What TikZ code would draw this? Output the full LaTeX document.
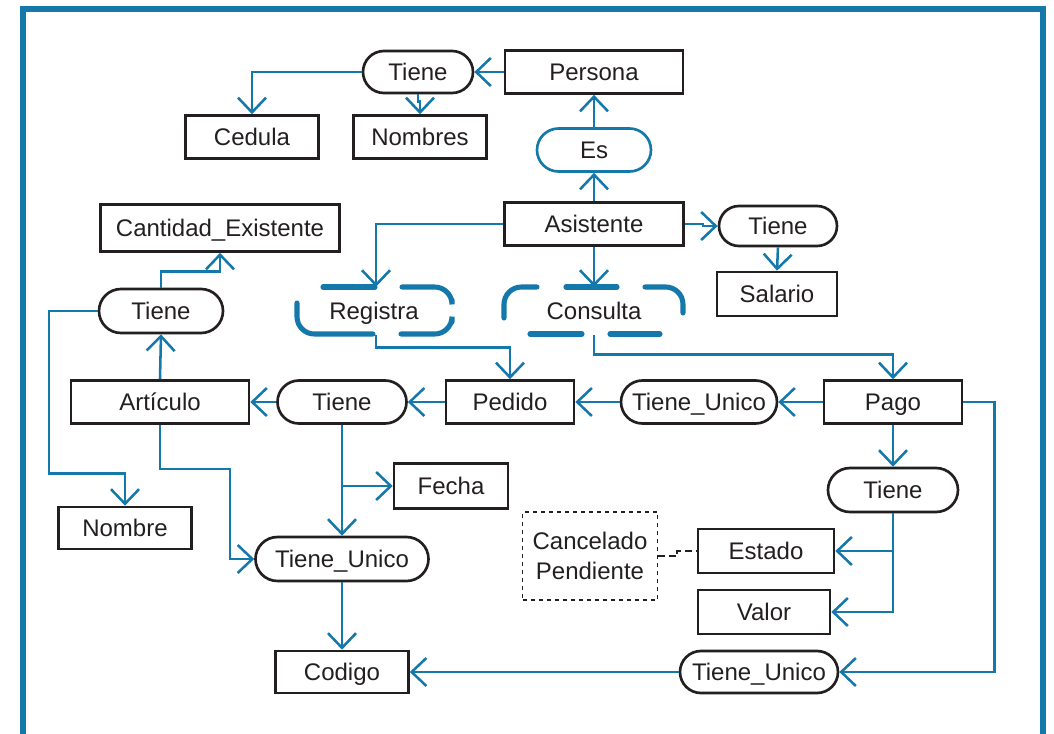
\documentclass[tikz,border=0pt]{standalone}
\usepackage{fontspec}
\setmainfont{Liberation Sans}
\usetikzlibrary{arrows.meta,shapes.misc,calc}
\definecolor{erblue}{RGB}{20,120,170}
\definecolor{ink}{RGB}{35,31,32}
\tikzset{
  sz/.style 2 args={minimum width=#1*0.75pt,minimum height=#2*0.75pt},
  base/.style={inner sep=0pt,font=\fontsize{18pt}{22.5pt}\selectfont,text=ink,align=center},
  one/.style={base,text height=12.6pt,text depth=0pt},
  ent/.style={one,draw=ink,line width=2pt,rectangle},
  rel/.style={one,draw=ink,line width=2pt,rounded rectangle},
  isa/.style={one,draw=erblue,line width=2pt,rounded rectangle},
  weakrel/.style={one,rectangle},
  weakline/.style={draw=erblue,line width=3.8pt,line cap=round,rounded corners=13pt},
  note/.style={base,draw=ink,line width=1.1pt,dashed,rectangle},
  link/.style={draw=erblue,line width=1.9pt,-{Straight Barb[length=11pt,width=21pt]}},
  notelink/.style={draw=ink,line width=1.3pt,dash pattern=on 5pt off 3pt}
}
\begin{document}
\begin{tikzpicture}[x=0.75pt,y=-0.75pt]
\useasboundingbox (0,0) rectangle (1054,733);
% frame
\draw[erblue,line width=4pt] (23,745) -- (23,9) -- (1043,9) -- (1043,745);

% nodes
\node[rel,sz={110}{42}] (tiene1) at (418,72) {Tiene};
\node[ent,sz={178}{43}] (persona) at (594,72) {Persona};
\node[ent,sz={133}{43}] (cedula) at (252,137) {Cedula};
\node[ent,sz={133}{43}] (nombres) at (420,137) {Nombres};
\node[isa,sz={114}{43}] (es) at (594,150) {Es};
\node[ent,sz={179}{43}] (asistente) at (594,224) {Asistente};
\node[rel,sz={118}{40}] (tiene2) at (778,226) {Tiene};
\node[ent,sz={120}{44}] (salario) at (777,294) {Salario};
\node[ent,sz={239}{47}] (cantidad) at (220,228) {Cantidad\_Existente};
\node[rel,sz={124}{44}] (tiene3) at (161,311) {Tiene};
\node[weakrel,sz={155}{48}] (registra) at (374,311) {Registra};
\node[weakrel,sz={179}{48}] (consulta) at (594,311) {Consulta};
\node[ent,sz={178}{43}] (articulo) at (160,402) {Artículo};
\node[rel,sz={129}{43}] (tiene4) at (342,402) {Tiene};
\node[ent,sz={128}{43}] (pedido) at (510,402) {Pedido};
\node[rel,sz={156}{43}] (tu1) at (699,402) {Tiene\_Unico};
\node[ent,sz={138}{43}] (pago) at (893,402) {Pago};
\node[ent,sz={114}{45}] (fecha) at (451,486) {Fecha};
\node[rel,sz={130}{44}] (tiene5) at (893,490) {Tiene};
\node[ent,sz={133}{42}] (nombre) at (125,528) {Nombre};
\node[note,sz={135}{88}] (cancel) at (590,556) {Cancelado\\Pendiente};
\node[ent,sz={136}{44}] (estado) at (766,551) {Estado};
\node[rel,sz={173}{44}] (tu2) at (342,559) {Tiene\_Unico};
\node[ent,sz={132}{44}] (valor) at (764,612) {Valor};
\node[ent,sz={133}{42}] (codigo) at (342,672) {Codigo};
\node[rel,sz={158}{42}] (tu3) at (759,672) {Tiene\_Unico};

% broken borders of the weak relationships
\begin{scope}[shift={(registra.center)}]
  \draw[weakline] (-51,-24) -- (1,-24);
  \draw[weakline] (28,-24) -- (78,-24) -- (78,-11);
  \draw[weakline] (78,11) -- (78,23) -- (27,23);
  \draw[weakline] (-1,23) -- (-77,23) -- (-77,-8);
\end{scope}
\begin{scope}[shift={(consulta.center)}]
  \draw[weakline] (-90,7) -- (-90,-24) -- (-57,-24);
  \draw[weakline] (-28,-24) -- (23,-24);
  \draw[weakline] (51,-24) -- (89,-24) -- (89,2);
  \draw[weakline] (-64,23) -- (-12,23);
  \draw[weakline] (16,23) -- (66,23);
\end{scope}

% connectors
\draw[link] (persona.west) -- (tiene1.east);
\draw[link] (tiene1.west) -| (cedula.north);
\draw[link] (tiene1.south) -- ++(0,7) -| (nombres.north);
\draw[link] (es.north) -- (persona.south);
\draw[link] (asistente.north) -- (es.south);
\draw[link] (asistente.east) -- ++(18,0) |- (tiene2.west);
\draw[link] (tiene2.south) -- (salario.north);
\draw[link] (asistente.west) -| ([xshift=1.5pt]registra.north);
\draw[link] (asistente.south) -- (consulta.north);
\draw[link] ([xshift=1.5pt]registra.south) -- ++(0,12) -| (pedido.north);
\draw[link] (consulta.south) -- ++(0,19) -| (pago.north);
\draw[link] (pago.west) -- (tu1.east);
\draw[link] (tu1.west) -- (pedido.east);
\draw[link] (pedido.west) -- (tiene4.east);
\draw[link] (tiene4.west) -- (articulo.west -| articulo.east);
\draw[link] (articulo.north) -- (tiene3.south);
\draw[link] (tiene3.north) -- ++(0,-16) -| (cantidad.south);
\draw[link] (tiene3.west) -| ($(nombre.north)+(-76,-32)$) -| (nombre.north);
\draw[link] (articulo.south) -- ++(0,44) -| ($(tu2.west)+(-24,0)$) -- (tu2.west);
\draw[link] (tiene4.south) -- (tu2.north);
\draw[link] (tiene4.south |- fecha.west) -- (fecha.west);
\draw[link] (tu2.south) -- (codigo.north);
\draw[link] (pago.south) -- (tiene5.north);
\draw[link] (tiene5.south) |- (estado.east);
\draw[link] (tiene5.south) |- (valor.east);
\draw[link] (pago.east) -- ++(31,0) |- (tu3.east);
\draw[link] (tu3.west) -- (codigo.east);
\draw[notelink] (cancel.east) -- ++(19,0) |- (estado.west);
\end{tikzpicture}
\end{document}
